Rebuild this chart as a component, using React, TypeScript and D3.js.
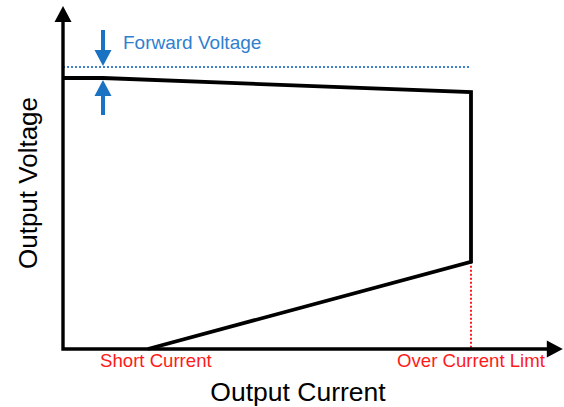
import React from "react";
import * as d3 from "d3";

// Output characteristic (normalized units: current %, voltage %)
const curveCurrent = [0, 9.8, 100, 100, 20.8];
const curveVoltage = [96.1, 96.1, 91.1, 30.9, 0];
const forwardVoltage = 100;
const overCurrentLimit = 100;
const shortCurrent = 20.8;
const axisMaxCurrent = 122.5;
const axisMaxVoltage = 121.6;
const labels = {
  forward: "Forward Voltage",
  short: "Short Current",
  over: "Over Current Limt",
  xTitle: "Output Current",
  yTitle: "Output Voltage",
};

const W = 564;
const H = 407;
const FONT = "'Liberation Sans', Arial, sans-serif";

export default function App() {
  const x = d3.scaleLinear().domain([0, 100]).range([63, 471]);
  const y = d3.scaleLinear().domain([0, 100]).range([349, 67]);
  const x0 = x(0);
  const y0 = y(0);
  const xEnd = x(axisMaxCurrent);
  const yEnd = y(axisMaxVoltage);

  const line = d3
    .line<number>()
    .x((_, i) => x(curveCurrent[i]))
    .y((_, i) => y(curveVoltage[i]));

  const blue = "#1a72c2";
  const red = "#ff1a1a";
  const arrowX = x(9.8);
  const fy = y(forwardVoltage);
  const cy = y(curveVoltage[0]);

  return (
    <svg
      width={W}
      height={H}
      style={{ position: "absolute", left: 0, top: 0, background: "#fff" }}
    >
      {/* forward voltage dotted line */}
      <line
        x1={x0}
        x2={x(overCurrentLimit)}
        y1={fy}
        y2={fy}
        stroke="#3f82c8"
        strokeWidth={2}
        strokeDasharray="2 2"
      />
      {/* over current limit dotted */}
      <line
        x1={x(overCurrentLimit)}
        x2={x(overCurrentLimit)}
        y1={y(curveVoltage[3])}
        y2={y0}
        stroke={red}
        strokeWidth={2}
        strokeDasharray="2 2"
      />
      {/* curve */}
      <path
        d={line(curveCurrent) || ""}
        fill="none"
        stroke="#000"
        strokeWidth={3.8}
        strokeLinejoin="miter"
      />
      {/* axes */}
      <path
        d={`M${x0},${yEnd + 14}L${x0},${y0}L${xEnd - 14},${y0}`}
        fill="none"
        stroke="#000"
        strokeWidth={3.4}
      />
      <polygon
        points={`${x0},${yEnd} ${x0 - 8.5},${yEnd + 16} ${x0 + 8.5},${yEnd + 16}`}
        fill="#000"
      />
      <polygon
        points={`${xEnd},${y0} ${xEnd - 16},${y0 - 8.5} ${xEnd - 16},${y0 + 8.5}`}
        fill="#000"
      />
      {/* blue arrows */}
      <line x1={arrowX} x2={arrowX} y1={30} y2={fy - 14} stroke={blue} strokeWidth={4} />
      <polygon
        points={`${arrowX},${fy - 1} ${arrowX - 8.5},${fy - 17} ${arrowX + 8.5},${fy - 17}`}
        fill={blue}
      />
      <line x1={arrowX} x2={arrowX} y1={cy + 14} y2={115} stroke={blue} strokeWidth={4} />
      <polygon
        points={`${arrowX},${cy + 2} ${arrowX - 8.5},${cy + 18} ${arrowX + 8.5},${cy + 18}`}
        fill={blue}
      />
      {/* texts */}
      <text x={123} y={49} fontFamily={FONT} fontSize={19} fill="#2f80cf">
        {labels.forward}
      </text>
      <text
        x={x(shortCurrent) + 8}
        y={367}
        fontFamily={FONT}
        fontSize={18.6}
        fill={red}
        textAnchor="middle"
      >
        {labels.short}
      </text>
      <text
        x={x(overCurrentLimit)}
        y={367}
        fontFamily={FONT}
        fontSize={18.6}
        fill={red}
        textAnchor="middle"
      >
        {labels.over}
      </text>
      <text
        x={298}
        y={401}
        fontFamily={FONT}
        fontSize={26.5}
        fill="#000"
        textAnchor="middle"
      >
        {labels.xTitle}
      </text>
      <text
        transform={`translate(37,183) rotate(-90)`}
        fontFamily={FONT}
        fontSize={26}
        fill="#000"
        textAnchor="middle"
      >
        {labels.yTitle}
      </text>
    </svg>
  );
}
